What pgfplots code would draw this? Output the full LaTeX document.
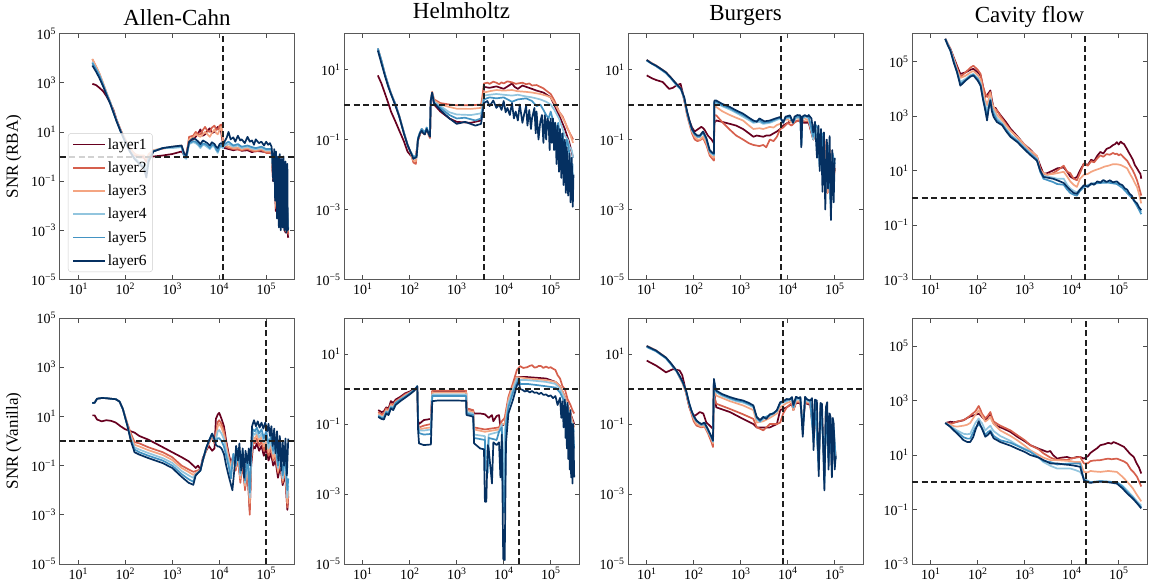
\documentclass[border=0pt]{standalone}
\usepackage{pgfplots}
\pgfplotsset{compat=1.18}
\usepackage{fontspec}
\setmainfont{Liberation Serif}
\definecolor{l1}{HTML}{67001F}
\definecolor{l2}{HTML}{D6604D}
\definecolor{l3}{HTML}{F4A582}
\definecolor{l4}{HTML}{92C5DE}
\definecolor{l5}{HTML}{4393C3}
\definecolor{l6}{HTML}{053061}
\newcommand\tl[1]{10\textsuperscript{#1}}
\tikzset{
  sa/.style={l1, line width=1.7pt, line join=round},
  sb/.style={l2, line width=1.7pt, line join=round},
  sc/.style={l3, line width=1.7pt, line join=round},
  sd/.style={l4, line width=1.7pt, line join=round},
  se/.style={l5, line width=1.7pt, line join=round},
  sf/.style={l6, line width=1.7pt, line join=round},
  mydl/.style={black!88, line width=2pt, dash pattern=on 6pt off 3.5pt},
}
\pgfplotsset{
  every axis/.append style={xmode=log, ymode=log, scale only axis, width=235pt, height=246pt,
    xmin=4, xmax=4e5,
    xtick={10,100,1000,10000,100000},
    xticklabels={\tl{1},\tl{2},\tl{3},\tl{4},\tl{5}},
    minor tick length=0pt, major tick length=4.5pt, tick align=inside,
    tick label style={font=\fontsize{14}{16}\selectfont},
    axis line style={black!65, line width=0.9pt},
    tick style={black!70, line width=0.8pt}},
  every axis y label/.style={at={(axis description cs:-0.194,0.5)}, rotate=90, anchor=center, font=\fontsize{17}{19}\selectfont},
  every axis title/.style={at={(0.5,1)}, anchor=base, font=\fontsize{23}{26}\selectfont},
}
\begin{document}
\begin{tikzpicture}
\path[use as bounding box] (0,0) rectangle (1149pt,-584pt);

% ================= Allen-Cahn RBA
\begin{axis}[at={(59.5pt,-33.5pt)}, anchor=north west,
  ymin=1e-5, ymax=1e5, ytick={1e-5,1e-3,1e-1,1e1,1e3,1e5},
  yticklabels={\tl{−5},\tl{−3},\tl{−1},\tl{1},\tl{3},\tl{5}},
  title={Allen-Cahn}, title style={yshift=8.5pt}, ylabel={SNR (RBA)},
  legend style={at={(0.036,0.03)}, anchor=south west, draw=black!20, rounded corners=3pt,
    fill=white, fill opacity=0.8, text opacity=1, draw opacity=1, font=\fontsize{15.5}{17}\selectfont, row sep=7pt,
    inner xsep=4pt, inner ysep=3pt}, legend cell align=left,
  legend image code/.code={\draw[#1] (0pt,0pt) -- (32pt,0pt);}]
\addplot[sa] coordinates {(20,900)(24,800)(28,630)(34,450)(40,280)(48,150)(56,80)(66,30)(79,12.6)(100,4.5)(126,2)(158,1.26)(200,1)(300,0.95)(398,1)(631,1.1)(1000,1.26)(1585,1.6)(1820,1.1)(2000,1.26)(2290,4)(2800,5)(3160,6.3)(3600,9)(3980,12.6)(4500,7)(5010,8)(5600,11)(6310,14)(7000,9)(7940,10)(8600,13)(9330,16)(1.02e4,12)(1.1e4,10)(1.2e4,3.2)(1.3e4,2.2)(1.6e4,2)(2e4,1.8)(2.5e4,2)(3e4,1.7)(4e4,1.8)(5e4,1.5)(6e4,1.7)(7.9e4,1.6)(1e5,1.5)(1.3e5,1.4)(1.4e5,0.1)(1.5e5,0.5)(1.6e5,6e-3)(1.7e5,0.2)(1.8e5,0.06)(1.9e5,0.01)(2e5,1.6e-3)(2.15e5,0.05)(2.3e5,0.016)(2.45e5,1e-3)(2.6e5,8e-4)(2.75e5,6e-3)(2.9e5,5.6e-4)(2.95e5,5e-4)};
\addplot[sb] coordinates {(20,9e3)(24,4.5e3)(28,2.4e3)(34,900)(40,390)(48,160)(56,68)(66,28)(79,12)(100,4.8)(126,2.0)(158,1.1)(200,0.9)(251,0.9)(282,0.6)(316,1.1)(398,1.7)(631,2.1)(1000,2.4)(1585,2.7)(1820,1.1)(2000,1.1)(2290,6.3)(2800,7)(3160,10)(3600,8)(3980,8)(4500,12)(5010,16)(5600,11)(6310,10)(7000,15)(7940,18)(8600,12.6)(9330,12.6)(1.02e4,18)(1.1e4,20)(1.2e4,5)(1.3e4,2.8)(1.58e4,2.2)(2e4,2)(2.5e4,1.9)(3e4,1.8)(4e4,2)(5e4,1.7)(6e4,1.6)(7.9e4,1.8)(1e5,1.4)(1.3e5,1.4)(1.4e5,0.12)(1.5e5,0.6)(1.6e5,8e-3)(1.7e5,0.3)(1.8e5,0.08)(1.9e5,0.012)(2e5,2e-3)(2.15e5,0.06)(2.3e5,0.02)(2.45e5,1.2e-3)(2.6e5,9e-4)(2.75e5,8e-3)(2.9e5,8e-4)(2.95e5,7e-4)};
\addplot[sc] coordinates {(20,9.3e3)(24,4.6e3)(28,2.5e3)(34,950)(40,400)(48,165)(56,70)(66,29)(79,12.6)(100,5)(126,2.2)(158,1.26)(200,1.1)(251,1.1)(282,0.8)(316,1.26)(398,1.8)(631,2.2)(1000,2.5)(1585,2.8)(1820,1.1)(2000,1.0)(2290,5)(2800,6)(3160,8)(3600,7)(3980,6.3)(4500,8)(5010,10)(5600,8)(6310,6.3)(7000,9)(7940,12.6)(8600,9)(9330,8)(1.02e4,12)(1.1e4,16)(1.2e4,4)(1.3e4,3.2)(1.58e4,2.5)(2e4,2.2)(2.5e4,2.3)(3e4,2)(4e4,2.2)(5e4,1.9)(6e4,1.8)(7.9e4,2)(1e5,1.6)(1.3e5,1.6)(1.4e5,0.16)(1.5e5,0.7)(1.6e5,0.01)(1.7e5,0.35)(1.8e5,0.1)(1.9e5,0.015)(2e5,2.5e-3)(2.15e5,0.08)(2.3e5,0.03)(2.45e5,1.5e-3)(2.6e5,1e-3)(2.75e5,0.01)(2.9e5,1e-3)(2.95e5,9e-4)};
\addplot[sd] coordinates {(20,7e3)(24,3.8e3)(28,2.2e3)(34,850)(40,380)(48,160)(56,66)(66,28)(79,11.5)(100,4.2)(126,1.7)(158,0.9)(200,0.6)(251,0.5)(282,0.3)(316,0.9)(398,1.7)(631,2.2)(1000,2.2)(1585,2.4)(1820,0.9)(2000,0.8)(2290,3.2)(2800,3.8)(3160,3.5)(3600,2.8)(3980,2.2)(4500,3)(5010,2.8)(5600,2.4)(6310,2.0)(7000,2.6)(7940,2.5)(8600,1.8)(9330,1.4)(1.02e4,2.2)(1.1e4,2.5)(1.2e4,2.2)(1.3e4,2.8)(1.58e4,3.2)(2e4,2.5)(2.5e4,2.8)(3e4,2.2)(4e4,2.5)(5e4,2.1)(6e4,2.0)(7.9e4,2.2)(1e5,1.8)(1.3e5,1.8)(1.4e5,0.2)(1.5e5,0.9)(1.6e5,0.02)(1.7e5,0.4)(1.8e5,0.2)(1.9e5,0.02)(2e5,2.5e-3)(2.15e5,0.1)(2.3e5,0.08)(2.45e5,2e-3)(2.6e5,1.4e-3)(2.75e5,0.01)(2.9e5,1.2e-3)(2.95e5,1.1e-3)};
\addplot[se] coordinates {(20,6.3e3)(24,3.5e3)(28,2e3)(34,800)(40,350)(48,150)(56,63)(66,27)(79,11)(100,4)(126,1.6)(158,0.8)(200,0.5)(251,0.4)(282,0.2)(316,0.8)(398,1.6)(631,2.2)(1000,2.5)(1585,2.6)(1820,1.0)(2000,0.9)(2290,3.5)(2800,4.2)(3160,4)(3600,3.2)(3980,2.5)(4500,3.4)(5010,3.2)(5600,2.8)(6310,2.2)(7000,3)(7940,2.8)(8600,2.0)(9330,1.6)(1.02e4,2.5)(1.1e4,2.8)(1.2e4,2.5)(1.3e4,3.2)(1.58e4,4)(2e4,2.8)(2.5e4,3.2)(3e4,2.5)(4e4,2.8)(5e4,2.4)(6e4,2.2)(7.9e4,2.5)(1e5,2)(1.3e5,2)(1.4e5,0.3)(1.5e5,1)(1.6e5,0.03)(1.7e5,0.5)(1.8e5,0.3)(1.9e5,0.03)(2e5,3e-3)(2.15e5,0.15)(2.3e5,0.1)(2.45e5,3e-3)(2.6e5,1.6e-3)(2.75e5,0.02)(2.9e5,1.3e-3)(2.95e5,1.2e-3)};
\addplot[sf] coordinates {(20,5e3)(24,2.8e3)(28,1.6e3)(34,700)(40,320)(48,140)(56,63)(66,26)(79,11)(100,4)(126,1.6)(158,0.8)(200,0.5)(251,0.32)(282,0.14)(316,0.63)(398,1.6)(631,2.2)(1000,2.5)(1585,2.8)(1820,1.26)(2000,1.1)(2290,4)(2800,5.5)(3160,5)(3600,4)(3980,3.2)(4500,4.5)(5010,4)(5600,3.5)(6310,2.8)(7000,3.8)(7940,3.2)(8600,2.5)(9330,2.2)(1.02e4,3.2)(1.1e4,3.5)(1.2e4,3)(1.3e4,4)(1.45e4,6)(1.58e4,10)(1.75e4,5)(2e4,6)(2.2e4,4)(2.5e4,7)(2.8e4,4.5)(3e4,5)(3.5e4,3.5)(4e4,6.3)(4.5e4,4)(5e4,4.5)(5.5e4,3)(6e4,5)(7e4,3.5)(7.9e4,4)(9e4,2.8)(1e5,4)(1.1e5,3)(1.2e5,3.5)(1.3e5,2.5)(1.35e5,1)(1.41e5,0.1)(1.48e5,2)(1.55e5,0.016)(1.62e5,1.6)(1.7e5,3e-3)(1.78e5,1)(1.86e5,1.3e-3)(1.95e5,1.26)(2.04e5,1e-3)(2.14e5,0.8)(2.24e5,1.3e-3)(2.34e5,1)(2.45e5,1e-3)(2.57e5,0.63)(2.69e5,8e-4)(2.82e5,0.5)(2.88e5,1e-3)(2.95e5,1.3e-3)};
\addplot[mydl, forget plot] coordinates {(4,1) (4e5,1)};
\addplot[mydl, forget plot] coordinates {(1.2e4,1e-5) (1.2e4,1e5)};
\legend{layer1,layer2,layer3,layer4,layer5,layer6}
\end{axis}

% ================= Helmholtz RBA
\begin{axis}[at={(344pt,-33.5pt)}, anchor=north west,
  ymin=1e-5, ymax=1.07e2, ytick={1e-5,1e-3,1e-1,1e1}, yticklabels={\tl{−5},\tl{−3},\tl{−1},\tl{1}},
  title={Helmholtz}, title style={yshift=15.2pt}]
\addplot[sa] coordinates {(21,6.8)(25,4)(30,2)(35,1.1)(40,0.63)(50,0.32)(60,0.18)(75,0.09)(90,0.045)(105,0.035)(120,0.032)(135,0.03)(150,0.1)(165,0.14)(180,0.2)(195,0.16)(210,0.15)(230,0.2)(250,0.15)(270,0.12)(280,1.2)(300,2)(330,1.0)(450,0.63)(700,0.4)(1000,0.32)(2000,0.3)(3300,0.35)(3500,0.8)(3800,3.2)(5000,3.0)(7000,3.3)(1e4,2.8)(1.3e4,3.5)(1.5e4,4)(1.7e4,3.2)(2e4,2.8)(2.5e4,3.5)(3e4,3.2)(4e4,2.8)(5e4,2.5)(7e4,2.2)(1e5,1.6)(1.5e5,0.5)(2e5,0.2)(2.5e5,0.08)(3e5,0.03)};
\addplot[sb] coordinates {(21,40)(25,18)(30,7)(35,3.6)(40,2.1)(50,1)(60,0.47)(75,0.16)(90,0.07)(100,0.05)(120,0.022)(135,0.02)(150,0.09)(165,0.14)(180,0.18)(195,0.15)(210,0.14)(230,0.2)(250,0.14)(270,0.11)(280,1.3)(300,2.3)(330,1.4)(450,1.1)(700,1.0)(1000,0.95)(2000,0.95)(3300,1)(3500,1.6)(3800,4)(4500,4.2)(5000,3.9)(6000,4.5)(7000,4.2)(8000,3.8)(9000,4.3)(1e4,4)(1.2e4,4.6)(1.5e4,4.3)(1.8e4,3.9)(2e4,4)(2.5e4,4.2)(3e4,3.8)(3.5e4,4)(4e4,3.5)(5e4,3.6)(6e4,3.2)(7e4,2.9)(8e4,2.5)(1e5,2)(1.2e5,1.3)(1.5e5,0.63)(1.8e5,0.45)(2e5,0.32)(2.3e5,0.2)(2.5e5,0.16)(2.8e5,0.12)(3e5,0.1)};
\addplot[sc] coordinates {(21,40)(25,18)(30,7)(35,3.6)(40,2.1)(50,1)(60,0.47)(75,0.16)(90,0.07)(100,0.05)(120,0.025)(135,0.024)(150,0.1)(165,0.15)(180,0.2)(195,0.16)(210,0.15)(230,0.2)(250,0.14)(270,0.12)(280,1.3)(300,2.2)(330,1.3)(450,1)(700,0.85)(1000,0.76)(2000,0.75)(3300,0.8)(3500,1.2)(3800,2.2)(5000,2.4)(7000,2.6)(1e4,2.5)(1.5e4,2.6)(2e4,2.4)(3e4,2.3)(4e4,2.2)(6e4,2)(8e4,1.8)(1e5,1.6)(1.2e5,1.1)(1.5e5,0.63)(2e5,0.32)(2.5e5,0.16)(3e5,0.08)};
\addplot[sd] coordinates {(21,40)(25,18)(30,7)(35,3.6)(40,2.1)(50,1)(60,0.47)(75,0.16)(90,0.07)(100,0.05)(120,0.03)(140,0.03)(150,0.11)(165,0.15)(180,0.2)(210,0.15)(230,0.22)(250,0.15)(270,0.13)(280,1.3)(300,2.1)(330,1.2)(450,0.9)(700,0.6)(1000,0.52)(2000,0.5)(3300,0.56)(3500,0.8)(3800,1.8)(5000,1.9)(7000,2)(1e4,1.9)(1.5e4,1.8)(2e4,1.9)(3e4,1.7)(4e4,1.6)(6e4,1.4)(8e4,1.2)(1e5,1)(1.2e5,0.7)(1.5e5,0.4)(1.8e5,0.2)(2e5,0.13)(2.3e5,0.1)(2.5e5,0.063)(2.8e5,0.05)(3e5,0.03)};
\addplot[se] coordinates {(21,40)(25,18)(30,7)(35,3.6)(40,2)(50,1)(60,0.45)(75,0.16)(90,0.07)(100,0.05)(120,0.032)(140,0.035)(150,0.11)(165,0.16)(180,0.2)(210,0.16)(230,0.22)(250,0.16)(270,0.14)(280,1.26)(300,2)(330,1.1)(450,0.8)(700,0.5)(1000,0.4)(1500,0.42)(2500,0.35)(3300,0.4)(3500,0.63)(3800,1.4)(5000,1.6)(7000,1.5)(1e4,1.6)(1.5e4,1.2)(2e4,1.4)(3e4,1.5)(4e4,1.26)(5e4,0.9)(6e4,1)(7e4,0.7)(8e4,0.5)(9e4,0.4)(1e5,0.63)(1.15e5,0.3)(1.3e5,0.2)(1.45e5,0.3)(1.6e5,0.1)(1.8e5,0.15)(2e5,0.025)(2.2e5,0.1)(2.4e5,0.063)(2.6e5,0.02)(2.8e5,6e-3)(2.9e5,0.02)(3e5,3e-3)};
\addplot[sf] coordinates {(21,35)(25,15)(30,6.3)(35,3.2)(40,2)(50,0.9)(60,0.45)(75,0.15)(90,0.07)(100,0.05)(120,0.028)(140,0.032)(150,0.1)(165,0.15)(180,0.18)(195,0.15)(210,0.14)(230,0.2)(250,0.15)(270,0.12)(280,1.26)(300,2.2)(330,1.1)(450,0.7)(700,0.4)(1000,0.28)(1500,0.32)(2500,0.25)(3300,0.28)(3500,0.5)(3800,1.1)(4500,1.26)(5000,0.9)(6000,1.3)(7000,0.8)(8000,1)(9000,0.7)(1e4,1.26)(1.1e4,0.6)(1.2e4,0.8)(1.35e4,0.5)(1.5e4,1.1)(1.65e4,0.4)(1.8e4,0.63)(2e4,0.35)(2.2e4,1)(2.5e4,0.3)(2.7e4,0.5)(3e4,0.9)(3.2e4,0.25)(3.5e4,0.7)(3.8e4,0.2)(4e4,0.4)(4.5e4,0.8)(4.8e4,0.15)(5e4,0.63)(5.5e4,0.1)(6e4,0.32)(6.5e4,0.5)(7e4,0.08)(7.5e4,0.5)(8e4,0.1)(8.5e4,0.4)(9e4,0.32)(9.5e4,0.05)(1e5,0.4)(1.06e5,0.08)(1.12e5,0.4)(1.18e5,0.05)(1.25e5,0.3)(1.33e5,0.02)(1.41e5,0.25)(1.5e5,0.012)(1.58e5,0.2)(1.68e5,8e-3)(1.78e5,0.15)(1.88e5,5e-3)(2e5,0.1)(2.1e5,3e-3)(2.2e5,0.06)(2.35e5,2.5e-3)(2.5e5,0.04)(2.65e5,1.6e-3)(2.8e5,0.03)(2.95e5,1.2e-3)(3.05e5,0.01)};
\addplot[mydl, forget plot] coordinates {(4,1) (4e5,1)};
\addplot[mydl, forget plot] coordinates {(3.8e3,1e-5) (3.8e3,1.07e2)};
\end{axis}

% ================= Burgers RBA
\begin{axis}[at={(628pt,-33.5pt)}, anchor=north west,
  ymin=1e-5, ymax=1.07e2, ytick={1e-5,1e-3,1e-1,1e1}, yticklabels={\tl{−5},\tl{−3},\tl{−1},\tl{1}},
  title={Burgers}, title style={yshift=13pt}]
\addplot[sa] coordinates {(10,6.8)(13,5.6)(16,5)(21.9,4.4)(30,2.8)(36,3)(42.7,3.5)(52.5,3.9)(57,2.5)(63,1.3)(70,0.7)(81,0.35)(92,0.22)(105,0.17)(125,0.2)(145,0.23)(160,0.21)(170,0.19)(200,0.13)(240,0.1)(269,0.078)(275,0.3)(302,0.35)(400,0.32)(589,0.28)(800,0.25)(1120,0.2)(1500,0.15)(1860,0.12)(2200,0.13)(3020,0.12)(3500,0.13)(4170,0.13)(5000,0.15)(5890,0.17)(6920,0.2)(8000,0.25)(1e4,0.3)(1.2e4,0.35)(1.5e4,0.33)(1.86e4,0.35)(2.2e4,0.3)(2.8e4,0.3)(3.5e4,0.1)(4.2e4,0.2)(5e4,0.02)(6e4,0.1)(7e4,3e-3)(8e4,0.05)(9e4,5e-3)(1e5,0.015)};
\addplot[sb] coordinates {(10,18.8)(13,15)(15.8,13)(20,10.5)(25.7,8.3)(33,5.8)(42.7,3.9)(53.7,2.8)(63,1.4)(72,0.5)(81,0.28)(92,0.15)(105,0.1)(120,0.09)(135,0.095)(158,0.11)(186,0.07)(219,0.035)(250,0.028)(269,0.025)(275,0.5)(302,0.49)(400,0.32)(589,0.19)(800,0.13)(1120,0.1)(1500,0.078)(1860,0.07)(2500,0.065)(3020,0.07)(3500,0.06)(4170,0.1)(5000,0.09)(5890,0.12)(6920,0.2)(8000,0.22)(1e4,0.3)(1.2e4,0.25)(1.5e4,0.33)(1.86e4,0.35)(2.3e4,0.33)(2.8e4,0.33)(3.5e4,0.1)(4.2e4,0.2)(5e4,0.02)(6e4,0.1)(7e4,3e-3)(8e4,0.05)(9e4,4e-3)(1e5,0.015)};
\addplot[sc] coordinates {(10,18.8)(13,15)(15.8,13)(20,10.5)(25.7,8.3)(33,5.8)(42.7,3.9)(53.7,2.8)(63,1.5)(72,0.55)(81,0.3)(92,0.17)(105,0.12)(120,0.1)(135,0.1)(158,0.12)(186,0.08)(219,0.04)(250,0.032)(269,0.03)(275,0.85)(302,0.85)(400,0.65)(589,0.5)(800,0.42)(1120,0.35)(1500,0.25)(1860,0.2)(2500,0.21)(3020,0.2)(4170,0.23)(5000,0.22)(5890,0.26)(6920,0.28)(8000,0.35)(1e4,0.38)(1.2e4,0.3)(1.5e4,0.4)(1.86e4,0.38)(2.3e4,0.4)(2.8e4,0.35)(3.5e4,0.12)(4.2e4,0.2)(5e4,0.02)(6e4,0.1)(7e4,3e-3)(8e4,0.05)(9e4,3e-3)(1e5,0.015)};
\addplot[sd] coordinates {(10,18)(15.8,12.5)(25.7,7.8)(33,5.5)(42.7,3.6)(53.7,2.7)(63,1.45)(72,0.6)(81,0.32)(92,0.18)(105,0.14)(120,0.12)(135,0.12)(158,0.15)(186,0.1)(219,0.045)(250,0.038)(269,0.035)(275,1.1)(302,1.1)(400,0.9)(589,0.72)(800,0.58)(1120,0.45)(1500,0.36)(1860,0.3)(2500,0.32)(3020,0.28)(4170,0.3)(5500,0.35)(6920,0.4)(8000,0.3)(9000,0.4)(1.12e4,0.42)(1.3e4,0.3)(1.5e4,0.42)(1.86e4,0.42)(1.95e4,0.08)(2.05e4,0.4)(2.4e4,0.45)(2.8e4,0.4)(3.5e4,0.1)(4e4,0.25)(4.8e4,0.015)(5.5e4,0.12)(6.3e4,2.5e-3)(7e4,0.07)(8.3e4,1e-3)(9e4,0.03)(1e5,0.02)};
\addplot[se] coordinates {(10,18)(15.8,12.5)(25.7,8)(33,5.6)(42.7,3.7)(53.7,2.7)(63,1.5)(72,0.6)(81,0.33)(92,0.19)(105,0.14)(120,0.12)(135,0.12)(158,0.16)(186,0.1)(219,0.045)(250,0.04)(269,0.037)(275,1.2)(302,1.2)(400,0.95)(589,0.78)(800,0.62)(1120,0.5)(1500,0.4)(1860,0.32)(2500,0.36)(3020,0.3)(4170,0.32)(5500,0.38)(6920,0.42)(8000,0.32)(9000,0.42)(1.12e4,0.45)(1.3e4,0.32)(1.5e4,0.45)(1.86e4,0.45)(1.95e4,0.07)(2.05e4,0.42)(2.4e4,0.48)(2.8e4,0.45)(3.5e4,0.12)(3.8e4,0.28)(4.5e4,0.2)(4.8e4,0.02)(5.5e4,0.15)(6.3e4,3e-3)(7e4,0.08)(8.3e4,1e-3)(9e4,0.04)(1e5,0.02)};
\addplot[sf] coordinates {(10,18.8)(12.6,15)(15.8,12.9)(20,10.5)(25.7,8.3)(33,5.8)(42.7,3.9)(53.7,2.8)(63,1.6)(72,0.65)(81,0.35)(92,0.2)(105,0.15)(120,0.13)(135,0.13)(158,0.17)(186,0.11)(219,0.05)(250,0.042)(269,0.04)(275,1.3)(302,1.3)(400,1.05)(589,0.85)(800,0.68)(1120,0.55)(1500,0.42)(1860,0.35)(2200,0.32)(2500,0.4)(3200,0.33)(4170,0.35)(5500,0.4)(6920,0.44)(8000,0.3)(9000,0.45)(1.12e4,0.49)(1.3e4,0.3)(1.4e4,0.45)(1.6e4,0.5)(1.86e4,0.49)(1.95e4,0.06)(2.05e4,0.45)(2.3e4,0.5)(2.6e4,0.45)(2.8e4,0.5)(3.2e4,0.4)(3.5e4,0.16)(3.8e4,0.32)(4.2e4,0.03)(4.5e4,0.25)(4.8e4,0.0126)(5.1e4,0.2)(5.5e4,3.2e-3)(5.9e4,0.16)(6.3e4,1e-3)(6.8e4,0.1)(7.2e4,4e-3)(7.8e4,0.126)(8.3e4,5e-4)(8.9e4,0.05)(9.5e4,1.6e-3)(1e5,0.03)};
\addplot[mydl, forget plot] coordinates {(4,1) (4e5,1)};
\addplot[mydl, forget plot] coordinates {(7.2e3,1e-5) (7.2e3,1.07e2)};
\end{axis}

% ================= Cavity RBA
\begin{axis}[at={(912pt,-33.5pt)}, anchor=north west,
  ymin=1e-3, ymax=1.07e6, ytick={1e-3,1e-1,1e1,1e3,1e5}, yticklabels={\tl{−3},\tl{−1},\tl{1},\tl{3},\tl{5}},
  title={Cavity flow}, title style={yshift=11pt}]
\addplot[sa] coordinates {(20.4,6.8e5)(23,4.5e5)(26.3,2.9e5)(31,1.4e5)(36.3,7e4)(42.7,3.5e4)(55,4e4)(70,5e4)(81,5.4e4)(100,4e4)(115,3.1e4)(130,1.2e4)(145,5e3)(160,6e3)(186,8.7e3)(200,4e3)(219,1.9e3)(240,2e3)(257,1.6e3)(331,9e2)(400,6e2)(501,3.4e2)(700,1.8e2)(955,95)(1300,60)(1820,32)(2140,15)(2510,7.6)(3000,8)(4000,10)(4900,12)(6760,13)(8000,9)(9330,6)(1.1e4,5)(1.29e4,5.8)(1.5e4,10)(1.82e4,18)(2.2e4,16)(2.6e4,25)(3e4,22)(3.5e4,35)(4.07e4,48)(4.7e4,42)(5.5e4,62)(6.5e4,70)(7.5e4,85)(8.5e4,95)(9.12e4,110)(1e5,90)(1.1e5,115)(1.2e5,100)(1.29e5,95)(1.4e5,75)(1.51e5,60)(1.65e5,45)(1.78e5,36)(2e5,25)(2.2e5,16)(2.45e5,12)(2.7e5,9)(2.9e5,7.5)(3.02e5,5)};
\addplot[sb] coordinates {(20.4,6.8e5)(23,4.5e5)(26.3,2.8e5)(31,1.3e5)(36.3,6e4)(42.7,2.7e4)(55,4e4)(70,6e4)(81,7e4)(100,5e4)(115,3.5e4)(130,1.2e4)(145,6.6e3)(160,5e3)(186,7.6e3)(200,3e3)(219,1.4e3)(240,1.8e3)(257,1.6e3)(331,8e2)(400,5e2)(501,3e2)(700,1.6e2)(955,83)(1300,50)(1820,32)(2140,12)(2510,7.6)(3000,7)(4000,8)(4900,10)(6760,15)(8000,9)(9330,8)(1.1e4,5)(1.29e4,4.4)(1.5e4,8)(1.82e4,18)(2.2e4,15)(2.6e4,22)(3e4,20)(3.5e4,28)(4.07e4,36)(4.7e4,32)(5.5e4,40)(6.5e4,38)(7.5e4,44)(8.5e4,40)(9.12e4,42)(1e5,36)(1.1e5,40)(1.29e5,30)(1.51e5,23)(1.78e5,14)(2e5,10)(2.2e5,7)(2.45e5,4.4)(2.7e5,2.5)(3.02e5,1.2)};
\addplot[sc] coordinates {(20.4,6.8e5)(23,4.4e5)(26.3,2.7e5)(31,1.2e5)(36.3,5e4)(42.7,2.5e4)(55,3e4)(70,4e4)(81,4.5e4)(100,3.2e4)(115,2.2e4)(130,8e3)(145,4e3)(158,2.5e3)(186,7e3)(200,3e3)(219,2.2e3)(257,1.1e3)(331,7e2)(400,4.5e2)(501,2.8e2)(700,1.7e2)(955,95)(1300,55)(1820,35)(2140,10)(2510,8)(3000,7)(4000,7.5)(4900,8)(6760,9)(8000,6)(9330,4)(1.1e4,3)(1.29e4,2.5)(1.5e4,5)(1.82e4,7)(2.2e4,7.5)(2.6e4,9)(3e4,10)(3.5e4,11)(4.07e4,12)(5e4,14)(6e4,15)(7.5e4,17)(9.12e4,17)(1.1e5,16)(1.29e5,14)(1.51e5,12)(1.78e5,7)(2e5,5)(2.2e5,3.5)(2.45e5,2.5)(2.7e5,1.4)(3.02e5,0.62)};
\addplot[sd] coordinates {(20.4,6.8e5)(23,4.3e5)(26.3,2.6e5)(31,1.1e5)(36.3,4.5e4)(42.7,1.8e4)(55,2.3e4)(70,3.2e4)(81,3.5e4)(100,2.5e4)(115,1.6e4)(130,5e3)(145,2.6e3)(158,1.5e3)(186,4.5e3)(200,2e3)(219,1.5e3)(257,8.5e2)(331,5.5e2)(400,3.5e2)(501,2.1e2)(700,1.3e2)(955,75)(1300,45)(1820,27)(2140,9)(2510,6.5)(3000,6)(4000,5.5)(4900,5)(6760,5)(8000,3)(9330,2.2)(1.1e4,1.8)(1.29e4,1.6)(1.5e4,2)(1.82e4,2.6)(2.5e4,3.2)(3e4,3.5)(4.07e4,3.8)(6e4,3.9)(9.12e4,3.5)(1.2e5,2.5)(1.51e5,1.7)(2e5,1)(2.45e5,0.55)(3.02e5,0.3)};
\addplot[se] coordinates {(20.4,6.8e5)(23,4.2e5)(26.3,2.5e5)(31,1e5)(36.3,4.1e4)(42.7,1.5e4)(55,2.1e4)(70,3e4)(81,3.3e4)(100,2.3e4)(115,1.4e4)(130,4e3)(145,2e3)(158,1e3)(186,4e3)(200,1.8e3)(219,1.2e3)(257,7e2)(331,5e2)(400,3.2e2)(501,1.9e2)(700,1.2e2)(955,70)(1300,42)(1820,25)(2140,9)(2510,5)(3000,4.5)(4000,3.8)(4900,3.2)(6760,3)(8000,2)(9330,1.5)(1.1e4,1.3)(1.29e4,1.2)(1.5e4,1.8)(1.82e4,2.5)(2.5e4,3)(3e4,3.3)(4.07e4,3.5)(6e4,3.6)(9.12e4,3.2)(1.2e5,2.3)(1.51e5,1.5)(2e5,0.9)(2.45e5,0.5)(3.02e5,0.25)};
\addplot[sf] coordinates {(20.4,6.8e5)(23,4e5)(26.3,2.5e5)(31,9e4)(36.3,4.1e4)(42.7,1.3e4)(55,2e4)(70,2.8e4)(81,3.1e4)(100,2e4)(115,1.3e4)(130,4e3)(145,1.6e3)(158,6.9e2)(172,2e3)(186,3.7e3)(200,1.5e3)(219,9.1e2)(257,6e2)(331,4.6e2)(400,2.8e2)(501,1.7e2)(700,1.1e2)(955,63)(1300,38)(1820,23)(2140,10)(2510,5.8)(3000,5.5)(4000,5)(4900,4.4)(6760,3.5)(8000,2.5)(9330,1.9)(1.1e4,1.5)(1.29e4,1.4)(1.5e4,2)(1.82e4,2.9)(2.2e4,2.5)(2.6e4,3.4)(3e4,3)(3.5e4,4)(4.07e4,3.6)(4.7e4,4.5)(5.5e4,3.8)(6.5e4,4.4)(7.5e4,3.7)(9.12e4,4)(1.05e5,3.2)(1.2e5,2.9)(1.35e5,2.2)(1.51e5,2)(1.7e5,1.4)(1.9e5,1.2)(2.1e5,0.8)(2.45e5,0.62)(2.7e5,0.45)(3.02e5,0.35)};
\addplot[mydl, forget plot] coordinates {(4,1) (4e5,1)};
\addplot[mydl, forget plot] coordinates {(1.9e4,1e-3) (1.9e4,1.07e6)};
\end{axis}

% ================= Allen-Cahn Vanilla
\begin{axis}[at={(59.5pt,-318pt)}, anchor=north west,
  ymin=1e-5, ymax=1e5, ytick={1e-5,1e-3,1e-1,1e1,1e3,1e5},
  yticklabels={\tl{−5},\tl{−3},\tl{−1},\tl{1},\tl{3},\tl{5}}, ylabel={SNR (Vanilla)}]
\addplot[sa] coordinates {(20,11)(22.4,11)(25.1,7.5)(31.6,6.3)(39.8,7)(50.1,6.6)(63.1,5.6)(79.4,4)(100,3)(158,2.2)(200,1.6)(316,1.12)(631,0.56)(1000,0.35)(1585,0.22)(2239,0.15)(2818,0.1)(3162,0.08)(3548,0.1)(3981,0.07)(4467,0.2)(5248,0.4)(6026,0.63)(7079,0.4)(7943,0.5)(8511,8)(9333,12)(1e4,14)(1.12e4,8)(1.26e4,4)(1.41e4,1)(1.58e4,0.32)(1.78e4,0.126)(2e4,0.25)(2.24e4,0.1)(2.51e4,0.16)(2.82e4,0.032)(3.16e4,0.1)(3.55e4,0.0126)(3.98e4,0.063)(4.47e4,1.6e-3)(4.79e4,0.1)(5.25e4,0.63)(5.75e4,0.5)(6.31e4,0.8)(7.08e4,0.4)(7.94e4,0.63)(8.91e4,0.25)(1e5,0.5)(1.12e5,0.16)(1.26e5,0.32)(1.41e5,0.1)(1.58e5,0.16)(1.78e5,0.032)(2e5,0.1)(2.24e5,0.016)(2.51e5,0.05)(2.82e5,1.6e-3)(2.95e5,6e-3)};
\addplot[sb] coordinates {(20,35)(22.4,36)(25.1,52)(31.6,56)(39.8,55)(50.1,52)(63.1,50)(75.9,40)(89.1,20)(112,5)(132,2)(158,0.9)(200,0.8)(316,0.55)(631,0.35)(1000,0.22)(1585,0.1)(2239,0.07)(2818,0.056)(3162,0.06)(3981,0.07)(4467,0.16)(5248,0.4)(6026,0.8)(7079,1.6)(7943,0.8)(8511,2)(9333,6)(1e4,7)(1.12e4,5)(1.26e4,2.5)(1.41e4,0.8)(1.58e4,0.25)(1.78e4,0.1)(2e4,0.2)(2.24e4,0.063)(2.51e4,0.2)(2.82e4,0.02)(3.16e4,0.16)(3.55e4,0.01)(3.98e4,0.1)(4.47e4,1e-3)(4.79e4,0.16)(5.25e4,1)(5.75e4,0.8)(6.31e4,1.26)(7.08e4,0.63)(7.94e4,1)(8.91e4,0.4)(1e5,0.8)(1.12e5,0.25)(1.26e5,0.5)(1.41e5,0.16)(1.58e5,0.25)(1.78e5,0.05)(2e5,0.16)(2.24e5,0.02)(2.51e5,0.08)(2.82e5,2e-3)(2.95e5,8e-3)};
\addplot[sc] coordinates {(20,35)(22.4,36)(25.1,52)(31.6,56)(39.8,55)(50.1,52)(63.1,50)(75.9,40)(89.1,20)(112,4.5)(132,1.6)(158,0.7)(200,0.6)(316,0.42)(631,0.27)(1000,0.17)(1585,0.08)(2239,0.055)(2818,0.042)(3162,0.05)(3981,0.065)(4467,0.16)(5248,0.45)(6026,0.9)(7079,1.8)(7943,1)(8511,1.5)(9333,4)(1e4,5)(1.12e4,3.5)(1.26e4,1.8)(1.41e4,0.6)(1.58e4,0.2)(1.78e4,0.08)(2e4,0.25)(2.24e4,0.08)(2.51e4,0.3)(2.82e4,0.03)(3.16e4,0.25)(3.55e4,0.015)(3.98e4,0.15)(4.47e4,3e-3)(4.79e4,0.2)(5.25e4,1.5)(5.75e4,1.2)(6.31e4,1.8)(7.08e4,1)(7.94e4,1.5)(8.91e4,0.6)(1e5,1.2)(1.12e5,0.35)(1.26e5,0.7)(1.41e5,0.2)(1.58e5,0.35)(1.78e5,0.06)(2e5,0.2)(2.24e5,0.025)(2.51e5,0.1)(2.82e5,3e-3)(2.95e5,0.01)};
\addplot[sd] coordinates {(20,35)(22.4,36)(25.1,52)(31.6,56)(39.8,55)(50.1,52)(63.1,50)(75.9,40)(89.1,20)(112,4.2)(132,1.3)(158,0.55)(200,0.45)(316,0.32)(631,0.2)(1000,0.13)(1585,0.06)(2239,0.04)(2818,0.032)(3162,0.045)(3981,0.063)(4467,0.16)(5248,0.5)(6026,1)(7079,2)(7943,1)(8511,1.2)(9333,2.5)(1e4,2.8)(1.12e4,2)(1.26e4,1.2)(1.41e4,0.4)(1.58e4,0.15)(1.78e4,0.05)(2e4,0.3)(2.24e4,0.1)(2.51e4,0.4)(2.82e4,0.04)(3.16e4,0.3)(3.55e4,0.02)(3.98e4,0.2)(4.47e4,5e-3)(4.79e4,0.3)(5.25e4,2)(5.75e4,1.8)(6.31e4,2.5)(7.08e4,1.4)(7.94e4,2)(8.91e4,0.9)(1e5,1.6)(1.12e5,0.5)(1.26e5,1)(1.41e5,0.3)(1.58e5,0.5)(1.78e5,0.08)(2e5,0.3)(2.24e5,0.03)(2.51e5,0.15)(2.82e5,5e-3)(2.95e5,0.015)};
\addplot[se] coordinates {(20,35)(22.4,36)(25.1,52)(31.6,56)(39.8,55)(50.1,52)(63.1,50)(75.9,40)(89.1,20)(112,4)(132,1.1)(158,0.45)(200,0.35)(316,0.25)(631,0.16)(1000,0.1)(1585,0.045)(2239,0.028)(2818,0.022)(3162,0.042)(3981,0.063)(4467,0.16)(5248,0.5)(6026,1)(7079,2)(7943,1)(8511,0.9)(9333,1.3)(1e4,1.3)(1.12e4,1)(1.26e4,0.6)(1.41e4,0.25)(1.58e4,0.1)(1.78e4,0.03)(2e4,0.3)(2.24e4,0.1)(2.51e4,0.5)(2.82e4,0.05)(3.16e4,0.4)(3.55e4,0.025)(3.98e4,0.25)(4.47e4,8e-3)(4.79e4,0.4)(5.25e4,3)(5.75e4,2.5)(6.31e4,3.5)(7.08e4,2)(7.94e4,3)(8.91e4,1.3)(1e5,2.5)(1.12e5,0.8)(1.26e5,1.5)(1.41e5,0.4)(1.58e5,0.8)(1.78e5,0.1)(2e5,0.5)(2.24e5,0.04)(2.51e5,0.3)(2.82e5,0.01)(2.95e5,0.03)};
\addplot[sf] coordinates {(20,35)(22.4,36)(25.1,52)(31.6,56)(39.8,55)(50.1,52)(63.1,50)(75.9,40)(89.1,20)(112,4)(132,1)(158,0.35)(200,0.28)(316,0.2)(631,0.126)(1000,0.08)(1585,0.035)(2239,0.02)(2818,0.0166)(3162,0.04)(3981,0.063)(4467,0.16)(5248,0.5)(6026,1)(7079,2)(7943,1.2)(8511,0.7)(9333,0.6)(1e4,0.6)(1.12e4,0.5)(1.26e4,0.3)(1.41e4,0.1)(1.58e4,0.04)(1.91e4,0.01)(2.14e4,0.1)(2.29e4,0.63)(2.51e4,0.16)(2.69e4,0.8)(2.95e4,0.063)(3.16e4,0.5)(3.39e4,0.032)(3.63e4,0.4)(3.98e4,0.126)(4.27e4,0.5)(4.57e4,0.1)(5.01e4,4)(5.5e4,7)(6.03e4,4)(6.61e4,6.3)(7.24e4,3.5)(7.94e4,5.6)(8.71e4,3.2)(9.55e4,5.6)(1.05e5,2.5)(1.12e5,5)(1.2e5,1.6)(1.29e5,4)(1.38e5,0.63)(1.48e5,3.2)(1.58e5,0.32)(1.7e5,2.5)(1.82e5,0.16)(1.95e5,1.6)(2.09e5,0.063)(2.24e5,1)(2.4e5,0.1)(2.57e5,1.26)(2.75e5,0.04)(2.95e5,1.26)};
\addplot[mydl, forget plot] coordinates {(4,1) (4e5,1)};
\addplot[mydl, forget plot] coordinates {(1e5,1e-5) (1e5,1e5)};
\end{axis}

% ================= Helmholtz Vanilla
\begin{axis}[at={(344pt,-318pt)}, anchor=north west,
  ymin=1e-5, ymax=1.07e2, ytick={1e-5,1e-3,1e-1,1e1}, yticklabels={\tl{−5},\tl{−3},\tl{−1},\tl{1}}]
\addplot[sa] coordinates {(21.4,0.25)(25.1,0.22)(28.2,0.23)(31.6,0.3)(35.5,0.28)(39.8,0.45)(44.7,0.4)(50.1,0.5)(63.1,0.6)(79.4,0.75)(100,0.85)(126,1.0)(145,1.1)(151,0.12)(158,0.1)(200,0.13)(282,0.14)(302,0.85)(1000,0.85)(1585,0.85)(1622,0.28)(2239,0.24)(2344,0.2)(3162,0.2)(3981,0.19)(4786,0.15)(5623,0.18)(6026,0.12)(7079,0.17)(7943,0.18)(8511,0.08)(9120,0.09)(1.05e4,0.1)(1.26e4,0.5)(1.58e4,1.2)(1.91e4,2.2)(3.16e4,2.2)(7.94e4,2.0)(1.26e5,1.6)(1.58e5,1.2)(2e5,0.6)(2.63e5,0.2)(3.16e5,0.1)};
\addplot[sb] coordinates {(21.4,0.22)(25.1,0.19)(28.2,0.2)(31.6,0.28)(35.5,0.25)(39.8,0.38)(44.7,0.35)(50.1,0.45)(63.1,0.55)(79.4,0.7)(100,0.8)(126,0.95)(145,1.15)(151,0.1)(158,0.08)(200,0.09)(282,0.1)(302,0.9)(1000,0.9)(1585,0.9)(1622,0.28)(2239,0.25)(2344,0.08)(3981,0.07)(7943,0.08)(9120,0.12)(1.05e4,0.15)(1.26e4,0.6)(1.58e4,1.5)(1.91e4,3.5)(2.24e4,4.5)(2.6e4,4)(3.16e4,4.2)(3.6e4,4.6)(4e4,4.8)(4.5e4,4.1)(5.01e4,4.2)(5.6e4,4.6)(6.3e4,4.5)(7e4,4)(7.94e4,4.4)(9e4,4)(1e5,4.2)(1.12e5,3.8)(1.26e5,3.5)(1.4e5,2.5)(1.58e5,2)(1.78e5,1.2)(2e5,1)(2.3e5,0.5)(2.63e5,0.35)(2.9e5,0.25)(3.16e5,0.2)};
\addplot[sc] coordinates {(21.4,0.2)(25.1,0.17)(28.2,0.18)(31.6,0.25)(35.5,0.23)(39.8,0.35)(44.7,0.32)(50.1,0.42)(63.1,0.52)(79.4,0.65)(100,0.78)(126,0.95)(145,1.15)(151,0.1)(158,0.07)(200,0.075)(282,0.08)(302,0.8)(1585,0.8)(1622,0.25)(2239,0.22)(2344,0.07)(3981,0.06)(7943,0.07)(9120,0.1)(1.05e4,0.1)(1.26e4,0.5)(1.58e4,1.2)(1.91e4,2.2)(2.5e4,2.1)(3.16e4,2)(5e4,1.9)(7.94e4,1.8)(1.26e5,1.6)(1.58e5,1.2)(2e5,0.6)(2.63e5,0.2)(3.16e5,0.08)};
\addplot[sd] coordinates {(21.4,0.18)(25.1,0.16)(28.2,0.16)(31.6,0.23)(35.5,0.21)(39.8,0.32)(44.7,0.29)(50.1,0.4)(63.1,0.5)(79.4,0.62)(100,0.75)(126,0.95)(145,1.2)(151,0.1)(158,0.065)(200,0.065)(282,0.07)(302,0.7)(1585,0.7)(1622,0.22)(2239,0.2)(2344,0.05)(3981,0.045)(4074,0.012)(4571,0.01)(4786,0.05)(7943,0.06)(9120,0.1)(9772,5e-4)(1.05e4,0.06)(1.26e4,0.4)(1.58e4,1)(1.91e4,2)(2.24e4,1.8)(3.16e4,1.8)(5.01e4,1.7)(7.94e4,1.6)(1.26e5,1.4)(1.58e5,1)(2e5,0.5)(2.63e5,0.15)(3.16e5,0.06)};
\addplot[se] coordinates {(21.4,0.17)(25.1,0.15)(28.2,0.15)(31.6,0.22)(35.5,0.2)(39.8,0.3)(44.7,0.28)(50.1,0.4)(63.1,0.5)(79.4,0.6)(100,0.75)(126,0.95)(145,1.2)(151,0.09)(158,0.055)(200,0.05)(282,0.052)(302,0.63)(1585,0.63)(1622,0.2)(2239,0.18)(2344,0.04)(3981,0.035)(4074,5e-3)(4571,4e-3)(4786,0.04)(7079,0.035)(7943,0.06)(9120,0.08)(9772,3e-4)(1.05e4,3e-4)(1.12e4,0.1)(1.26e4,0.3)(1.58e4,0.8)(1.91e4,1.5)(2.09e4,2)(2.24e4,1.4)(3.16e4,1.4)(5.01e4,1.3)(7.94e4,1.2)(1.26e5,1.1)(1.58e5,0.8)(2e5,0.4)(2.29e5,0.3)(2.63e5,0.1)(3.02e5,0.05)(3.16e5,0.02)};
\addplot[sf] coordinates {(21.4,0.16)(25.1,0.14)(28.2,0.135)(31.6,0.2)(35.5,0.18)(39.8,0.28)(44.7,0.25)(50.1,0.35)(63.1,0.45)(79.4,0.56)(100,0.7)(126,0.9)(145,1.2)(151,0.063)(158,0.028)(200,0.025)(282,0.026)(302,0.45)(398,0.47)(1000,0.47)(1585,0.46)(1622,0.18)(1995,0.17)(2239,0.16)(2344,0.028)(3162,0.02)(3802,0.019)(3981,6e-4)(4266,6e-4)(4571,0.025)(4786,0.02)(5623,2e-3)(6026,0.03)(7079,0.025)(7943,0.03)(8511,3e-3)(9120,0.05)(9772,1.4e-5)(1.05e4,1.3e-5)(1.12e4,0.03)(1.26e4,0.2)(1.58e4,0.5)(1.91e4,1.26)(2.09e4,1.6)(2.24e4,1)(2.5e4,0.95)(2.8e4,0.85)(3.16e4,0.9)(3.6e4,0.8)(4e4,0.88)(4.5e4,0.78)(5.01e4,0.8)(5.6e4,0.72)(6.3e4,0.78)(7e4,0.68)(7.94e4,0.7)(9e4,0.62)(1e5,0.66)(1.12e5,0.55)(1.26e5,0.63)(1.4e5,0.35)(1.58e5,0.56)(1.68e5,0.15)(1.78e5,0.45)(1.88e5,0.08)(2e5,0.5)(2.07e5,0.04)(2.14e5,0.3)(2.21e5,0.02)(2.29e5,0.4)(2.37e5,0.01)(2.45e5,0.2)(2.54e5,5e-3)(2.63e5,0.25)(2.72e5,3e-3)(2.82e5,0.1)(2.92e5,2e-3)(3.02e5,0.1)(3.16e5,3e-3)};
\addplot[mydl, forget plot] coordinates {(4,1) (4e5,1)};
\addplot[mydl, forget plot] coordinates {(2.1e4,1e-5) (2.1e4,1.07e2)};
\end{axis}

% ================= Burgers Vanilla
\begin{axis}[at={(628pt,-318pt)}, anchor=north west,
  ymin=1e-5, ymax=1.07e2, ytick={1e-5,1e-3,1e-1,1e1}, yticklabels={\tl{−5},\tl{−3},\tl{−1},\tl{1}}]
\addplot[sa] coordinates {(10,6.5)(12.6,5.5)(15.8,4.7)(20,3.8)(25.7,3)(36.3,3.7)(50,3.4)(57,2.5)(63,1.4)(72,0.6)(81,0.3)(92,0.2)(105,0.17)(135,0.22)(160,0.2)(186,0.11)(220,0.09)(257,0.072)(269,1.5)(285,0.5)(302,0.3)(589,0.22)(1120,0.14)(1860,0.1)(2190,0.08)(3020,0.08)(4170,0.08)(5890,0.1)(6920,0.25)(9550,0.3)(1.23e4,0.38)(1.32e4,0.25)(1.5e4,0.4)(1.86e4,0.4)(2.09e4,0.1)(2.34e4,0.4)(3.02e4,0.35)(3.55e4,0.05)(3.8e4,0.33)(4.57e4,0.01)(5e4,0.28)(5.7e4,0.05)(6.03e4,4e-3)(6.5e4,0.2)(7.41e4,0.012)(8.13e4,0.1)(8.71e4,6e-3)(9.55e4,0.05)(1.05e5,0.01)};
\addplot[sb] coordinates {(10,17)(15.8,12.6)(25.7,7.9)(42.7,3.4)(58.9,1.4)(69,0.75)(80,0.32)(89,0.2)(100,0.12)(115,0.09)(145,0.08)(170,0.085)(200,0.055)(240,0.03)(257,0.022)(269,0.8)(285,0.5)(302,0.38)(589,0.27)(1120,0.19)(1860,0.14)(2190,0.081)(3020,0.066)(4170,0.1)(5890,0.1)(6920,0.11)(8000,0.2)(9550,0.3)(1.23e4,0.4)(1.32e4,0.25)(1.5e4,0.42)(1.86e4,0.42)(2.09e4,0.1)(2.34e4,0.4)(3.02e4,0.38)(3.55e4,0.05)(3.8e4,0.35)(4.57e4,0.01)(5e4,0.28)(5.7e4,0.05)(6.03e4,4e-3)(6.5e4,0.2)(7.41e4,0.012)(8.13e4,0.1)(8.71e4,6e-3)(9.55e4,0.05)(1.05e5,0.01)};
\addplot[sc] coordinates {(10,17)(15.8,12.6)(25.7,7.9)(42.7,3.4)(58.9,1.4)(69,0.8)(80,0.35)(89,0.22)(100,0.14)(115,0.1)(145,0.085)(170,0.09)(200,0.06)(240,0.036)(257,0.028)(269,1.2)(285,0.8)(302,0.65)(589,0.45)(1120,0.34)(1860,0.25)(2190,0.11)(3020,0.12)(4170,0.15)(5890,0.2)(6920,0.3)(9550,0.4)(1.23e4,0.45)(1.32e4,0.25)(1.5e4,0.45)(1.86e4,0.45)(2.09e4,0.1)(2.34e4,0.45)(3.02e4,0.4)(3.55e4,0.05)(3.8e4,0.38)(4.57e4,0.01)(5e4,0.3)(5.7e4,0.05)(6.03e4,4e-3)(6.5e4,0.22)(7.41e4,0.012)(8.13e4,0.12)(8.71e4,6e-3)(9.55e4,0.06)(1.05e5,0.01)};
\addplot[sd] coordinates {(10,16)(15.8,12)(25.7,7.5)(42.7,3.3)(58.9,1.5)(69,0.85)(80,0.38)(89,0.24)(100,0.16)(115,0.12)(145,0.095)(170,0.1)(200,0.066)(240,0.04)(257,0.031)(269,1.7)(285,1.0)(302,0.8)(400,0.64)(589,0.52)(800,0.45)(1120,0.41)(1500,0.35)(1860,0.3)(2190,0.14)(2570,0.115)(3020,0.14)(4170,0.17)(5890,0.23)(6920,0.38)(9550,0.45)(1.23e4,0.52)(1.32e4,0.3)(1.5e4,0.5)(1.86e4,0.52)(2.09e4,0.08)(2.34e4,0.5)(3.02e4,0.42)(3.55e4,0.04)(3.8e4,0.42)(4.57e4,8e-3)(5e4,0.32)(5.7e4,0.04)(6.03e4,3e-3)(6.5e4,0.25)(7.41e4,0.01)(8.13e4,0.13)(8.71e4,5e-3)(9.55e4,0.07)(1.05e5,0.01)};
\addplot[se] coordinates {(10,16)(15.8,12)(25.7,7.6)(42.7,3.3)(58.9,1.5)(69,0.85)(80,0.38)(89,0.24)(100,0.16)(115,0.12)(145,0.095)(170,0.1)(200,0.068)(240,0.04)(257,0.032)(269,1.8)(285,1.1)(302,0.85)(400,0.68)(589,0.55)(800,0.48)(1120,0.44)(1500,0.37)(1860,0.32)(2190,0.15)(2570,0.12)(3020,0.15)(4170,0.18)(5890,0.24)(6920,0.4)(9550,0.48)(1.23e4,0.55)(1.32e4,0.3)(1.5e4,0.55)(1.86e4,0.55)(2.09e4,0.06)(2.34e4,0.55)(3.02e4,0.45)(3.55e4,0.03)(3.8e4,0.45)(4.57e4,5e-3)(5e4,0.35)(5.7e4,0.03)(6.03e4,2e-3)(6.5e4,0.28)(7.41e4,8e-3)(8.13e4,0.15)(8.71e4,4e-3)(9.55e4,0.08)(1.05e5,0.01)};
\addplot[sf] coordinates {(10,17)(12.6,14.5)(15.8,12.6)(20,10)(25.7,7.9)(33,5.4)(42.7,3.4)(50,2.4)(58.9,1.55)(69,0.9)(80,0.4)(89,0.25)(100,0.17)(115,0.126)(130,0.11)(145,0.1)(170,0.11)(200,0.072)(240,0.043)(257,0.034)(269,1.95)(285,1.2)(302,0.9)(400,0.72)(589,0.59)(800,0.52)(1120,0.47)(1500,0.4)(1860,0.34)(2190,0.16)(2570,0.13)(3020,0.16)(3500,0.14)(4170,0.19)(5000,0.2)(5890,0.25)(6920,0.42)(8000,0.45)(9550,0.52)(1.1e4,0.5)(1.23e4,0.59)(1.32e4,0.35)(1.5e4,0.6)(1.7e4,0.55)(1.86e4,0.59)(2.09e4,0.043)(2.34e4,0.6)(2.6e4,0.5)(3.02e4,0.47)(3.3e4,0.55)(3.55e4,0.018)(3.8e4,0.5)(4.17e4,0.47)(4.57e4,3.2e-3)(5e4,0.4)(5.37e4,0.37)(5.7e4,0.02)(6.03e4,1.26e-3)(6.5e4,0.3)(6.92e4,0.42)(7.41e4,5e-3)(7.8e4,0.2)(8.13e4,0.16)(8.71e4,3e-3)(9.1e4,0.15)(9.55e4,0.1)(1e5,5e-3)(1.05e5,0.012)};
\addplot[mydl, forget plot] coordinates {(4,1) (4e5,1)};
\addplot[mydl, forget plot] coordinates {(7.8e3,1e-5) (7.8e3,1.07e2)};
\end{axis}

% ================= Cavity Vanilla
\begin{axis}[at={(912pt,-318pt)}, anchor=north west,
  ymin=1e-3, ymax=1.07e6, ytick={1e-3,1e-1,1e1,1e3,1e5}, yticklabels={\tl{−3},\tl{−1},\tl{1},\tl{3},\tl{5}}]
\addplot[sa] coordinates {(20.4,150)(26.3,166)(31,160)(36.3,166)(50.1,190)(60,230)(69.2,260)(89.1,300)(105,330)(115,290)(123,250)(145,190)(165,250)(186,320)(200,220)(219,140)(260,115)(355,93)(500,70)(692,47)(1000,32)(1318,23)(2000,17)(3020,13)(3500,14)(4000,10)(4898,7.4)(6000,8)(7943,8.5)(1e4,7.5)(1.3e4,8.5)(1.51e4,8.5)(1.82e4,7.4)(2.2e4,9)(2.51e4,12)(3e4,15)(3.5e4,18)(4.07e4,23)(5e4,25)(6e4,28)(7e4,26)(7.76e4,30)(9e4,27)(1e5,25)(1.15e5,22)(1.29e5,20)(1.5e5,15)(1.75e5,11)(2.09e5,8.5)(2.4e5,5)(2.7e5,3.5)(3.02e5,2.1)};
\addplot[sb] coordinates {(20.4,150)(26.3,140)(31,150)(36.3,170)(50.1,190)(60,230)(69.2,280)(89.1,400)(105,630)(115,450)(123,330)(145,220)(165,280)(186,380)(200,250)(219,170)(260,140)(302,120)(500,80)(692,54)(1000,35)(1318,23)(2000,16)(2512,11.5)(3548,8)(4898,6.5)(6000,7)(7943,6.5)(9333,7.4)(1.2e4,8)(1.51e4,8.5)(1.82e4,4.9)(2.2e4,5)(2.51e4,6)(3e4,6.3)(4.07e4,6.5)(5e4,7)(6e4,7.4)(7e4,7)(9.12e4,7.4)(1.1e5,6.5)(1.3e5,5.8)(1.51e5,4.9)(1.8e5,3)(2.09e5,2.3)(2.45e5,1.6)(2.7e5,1.1)(3.02e5,0.7)};
\addplot[sc] coordinates {(20.4,150)(26.3,130)(31,115)(36.3,110)(50.1,120)(60,130)(69.2,150)(89.1,300)(105,440)(115,330)(123,280)(145,170)(165,200)(186,250)(200,180)(219,140)(302,80)(500,50)(692,35)(1000,22)(1318,15)(2000,10)(2512,8)(3548,6.5)(4898,6.5)(9333,6)(1.2e4,5.5)(1.51e4,5.6)(1.82e4,2.4)(2.2e4,2.3)(2.51e4,2.6)(3e4,2.5)(4.07e4,2.4)(6e4,2.6)(9.12e4,2.4)(1.2e5,1.6)(1.51e5,1.05)(2e5,0.6)(2.45e5,0.34)(3.02e5,0.2)};
\addplot[sd] coordinates {(20.4,150)(26.3,115)(31,95)(36.3,80)(50.1,60)(60,58)(69.2,60)(89.1,150)(105,220)(115,170)(123,150)(145,80)(165,100)(186,120)(200,95)(219,75)(302,50)(500,33)(692,23)(1000,17)(1318,14)(2000,8)(2512,5.5)(3548,4)(4898,3.2)(9333,3.2)(1.2e4,2.8)(1.51e4,2.4)(1.82e4,1.4)(2.51e4,1.0)(4.07e4,1.1)(9.12e4,1.0)(1.2e5,0.75)(1.51e5,0.5)(2e5,0.3)(2.45e5,0.2)(3.02e5,0.14)};
\addplot[se] coordinates {(20.4,150)(26.3,110)(31,85)(36.3,70)(50.1,45)(60,40)(69.2,40)(89.1,100)(105,130)(115,115)(123,100)(145,55)(165,70)(186,80)(200,65)(219,50)(302,35)(500,28)(692,22)(1000,16)(1318,13)(2000,8)(2512,6)(3548,5.5)(4898,4.5)(9333,4.9)(1.2e4,4.9)(1.51e4,4.9)(1.82e4,1.2)(2.51e4,1.0)(4.07e4,1.1)(9.12e4,1.0)(1.2e5,0.7)(1.51e5,0.45)(2e5,0.28)(2.45e5,0.18)(3.02e5,0.12)};
\addplot[sf] coordinates {(20.4,150)(26.3,107)(31,80)(36.3,62)(50.1,35)(60,30)(69.2,30)(80,45)(89.1,81)(105,174)(115,120)(123,93)(145,47)(165,55)(186,71)(200,55)(219,41)(302,30)(500,22)(692,17)(1000,13)(1318,10)(2000,8)(2512,6.5)(3548,4.9)(4898,4.9)(7000,4.5)(9333,4.3)(1.2e4,4)(1.51e4,3.7)(1.82e4,1.2)(2.2e4,1.0)(2.51e4,0.95)(3e4,1)(4.07e4,1.05)(6e4,1.0)(9.12e4,0.9)(1.2e5,0.6)(1.51e5,0.39)(2e5,0.25)(2.45e5,0.17)(3.02e5,0.11)};
\addplot[mydl, forget plot] coordinates {(4,1) (4e5,1)};
\addplot[mydl, forget plot] coordinates {(2e4,1e-3) (2e4,1.07e6)};
\end{axis}
\end{tikzpicture}
\end{document}
